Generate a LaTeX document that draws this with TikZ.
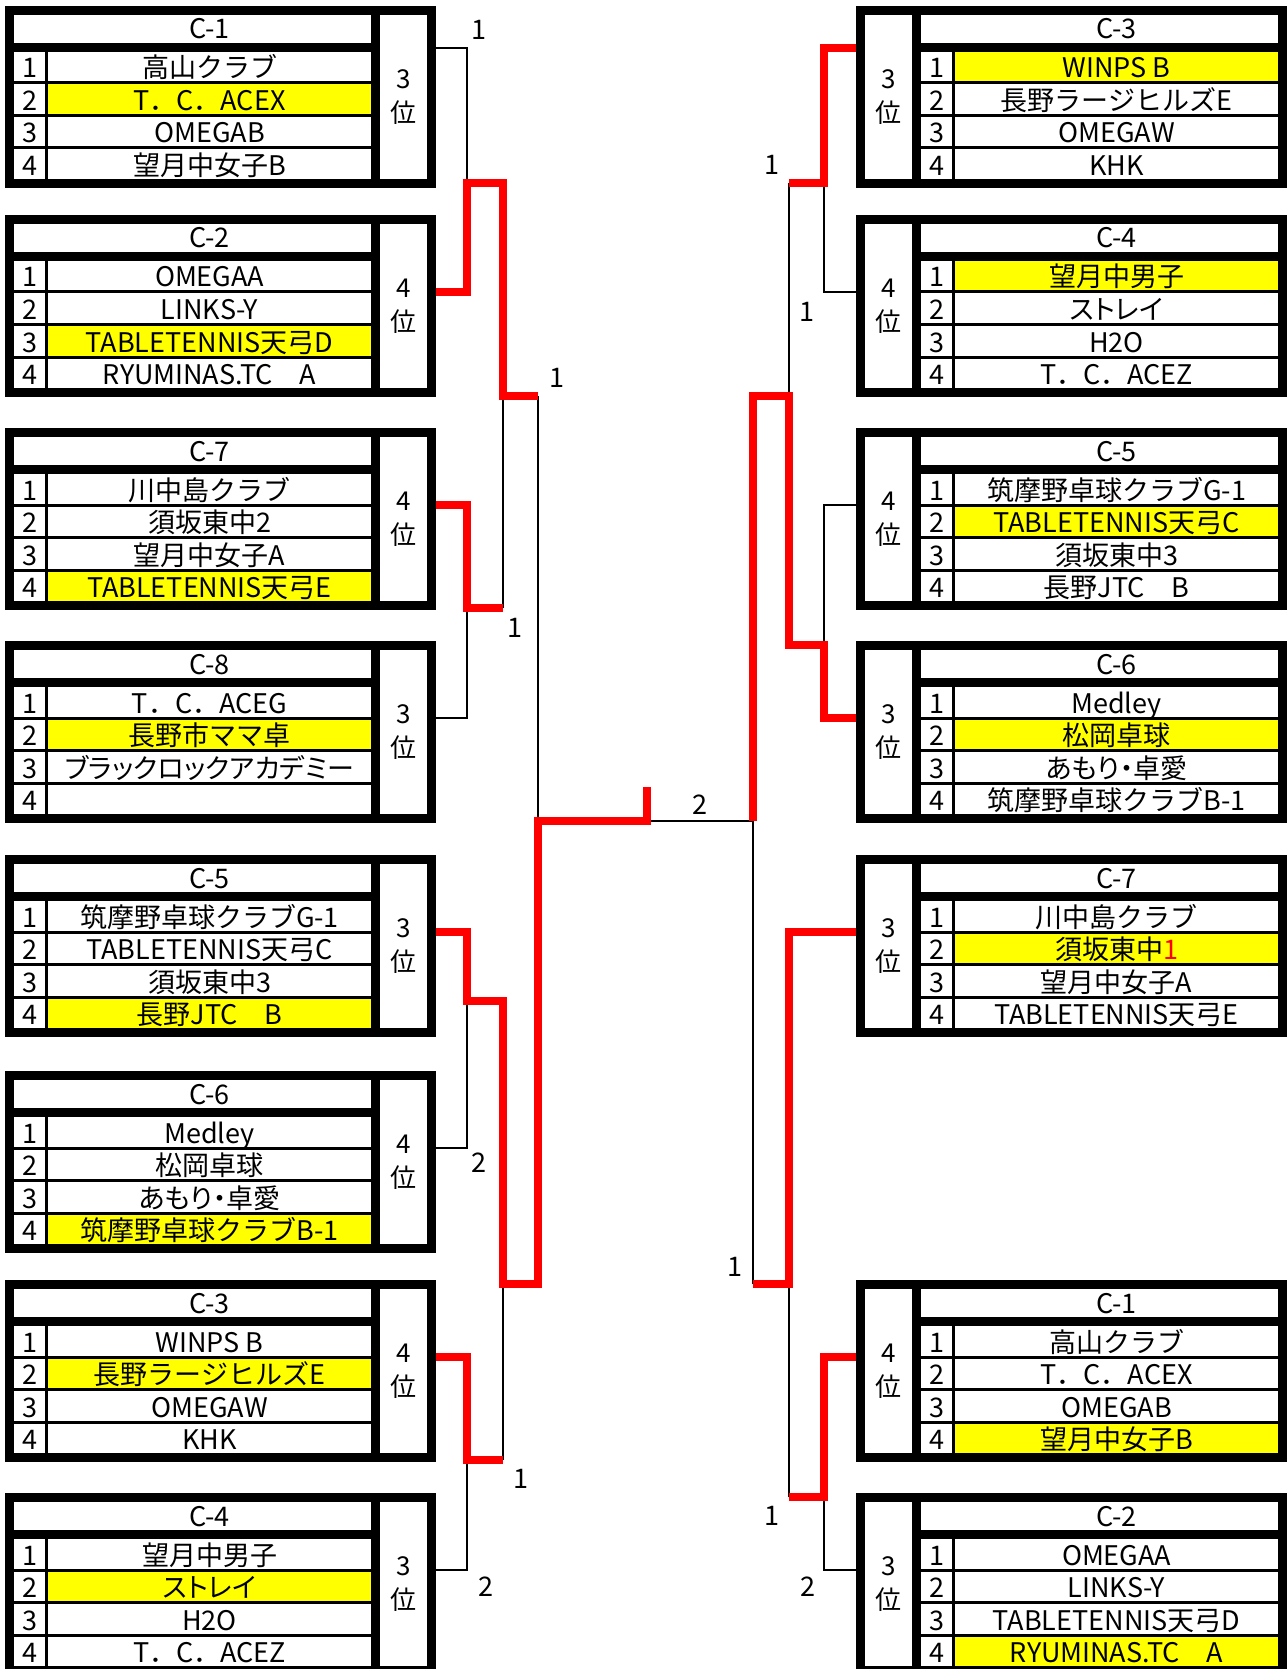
\documentclass[tikz,border=0pt]{standalone}
\usepackage{fontspec}
\setmainfont{Noto Sans CJK JP}
\usepackage{tikz}
\usetikzlibrary{calc}
\definecolor{winred}{RGB}{255,0,0}
\definecolor{hlyellow}{RGB}{255,255,0}
\newcommand{\prop}[1]{{\addfontfeature{RawFeature=+palt}#1}}

% #1 name, #2 x, #3 y, #4 team columns, #5 rank column, #6 title, #7 rank, #8 rows
\newcommand{\teambox}[8]{%
  \pgfmathsetmacro{\tbnamex}{#4+34}
  \node[frame] (#1) at (#2,#3) {};
  \node[titlecell] (#1-t) at ([xshift=#4pt, yshift=-9pt]#1.north west) {\hspace*{34pt}\makebox[323pt]{#6}};
  \node[rankcell] (#1-r) at ([xshift=#5pt, yshift=-9pt]#1.north west) {#7\\位};
  \foreach \k/\team/\bg in {#8} {
    \pgfmathsetmacro{\rowy}{-46-32.5*(\k-1)}
    \node[numcell] (#1-n\k) at ([xshift=#4pt, yshift=\rowy pt]#1.north west) {\k};
    \node[teamcell, fill=\bg] (#1-m\k) at ([xshift=\tbnamex pt, yshift=\rowy pt]#1.north west) {\team};
  }%
}

\begin{document}
\begin{tikzpicture}[
    x=1pt, y=-1pt,
    frame/.style={
        rectangle, fill=black, inner sep=0pt, outer sep=0pt, anchor=north west,
        minimum width=431pt, minimum height=182pt
    },
    cell/.style={
        rectangle, fill=white, inner sep=0pt, outer sep=0pt, anchor=north west,
        font=\fontsize{27}{30}\selectfont
    },
    titlecell/.style={cell, minimum width=357pt, minimum height=28pt, text height=24pt, text depth=4pt},
    teamcell/.style={cell, minimum width=323pt, minimum height=29.5pt, text height=26pt, text depth=3.5pt},
    numcell/.style={cell, minimum width=31pt, minimum height=29.5pt, text height=26pt, text depth=3.5pt},
    rankcell/.style={cell, minimum width=47pt, minimum height=164pt, align=center, font=\fontsize{26}{34}\selectfont},
    score/.style={inner sep=0pt, font=\fontsize{27}{30}\selectfont},
    bline/.style={line width=2.5pt, black},
    rline/.style={line width=8.5pt, winred}
]
\path[use as bounding box, fill=white] (0,0) rectangle (1287,1669);

% Left groups
\teambox{lc1}{5}{6}{9}{375}{C-1}{3}{1/高山クラブ/white, 2/T．C．ACEX/hlyellow, 3/OMEGAB/white, 4/望月中女子B/white}
\teambox{lc2}{5}{215}{9}{375}{C-2}{4}{1/OMEGAA/white, 2/LINKS-Y/white, 3/TABLETENNIS天弓D/hlyellow, 4/RYUMINAS.TC　A/white}
\teambox{lc7}{5}{428}{9}{375}{C-7}{4}{1/川中島クラブ/white, 2/須坂東中2/white, 3/望月中女子A/white, 4/TABLETENNIS天弓E/hlyellow}
\teambox{lc8}{5}{641}{9}{375}{C-8}{3}{1/T．C．ACEG/white, 2/長野市ママ卓/hlyellow, 3/\prop{ブラックロックアカデミー}/white, 4/{}/white}
\teambox{lc5}{5}{855}{9}{375}{C-5}{3}{1/筑摩野卓球クラブG-1/white, 2/TABLETENNIS天弓C/white, 3/須坂東中3/white, 4/長野JTC　B/hlyellow}
\teambox{lc6}{5}{1071}{9}{375}{C-6}{4}{1/Medley/white, 2/松岡卓球/white, 3/\prop{あもり・卓愛}/white, 4/筑摩野卓球クラブB-1/hlyellow}
\teambox{lc3}{5}{1280}{9}{375}{C-3}{4}{1/WINPS B/white, 2/長野ラージヒルズE/hlyellow, 3/OMEGAW/white, 4/KHK/white}
\teambox{lc4}{5}{1493}{9}{375}{C-4}{3}{1/望月中男子/white, 2/\prop{ストレイ}/hlyellow, 3/H2O/white, 4/T．C．ACEZ/white}

% Right groups
\teambox{rc3}{856}{6}{65}{9}{C-3}{3}{1/WINPS B/hlyellow, 2/長野ラージヒルズE/white, 3/OMEGAW/white, 4/KHK/white}
\teambox{rc4}{856}{215}{65}{9}{C-4}{4}{1/望月中男子/hlyellow, 2/\prop{ストレイ}/white, 3/H2O/white, 4/T．C．ACEZ/white}
\teambox{rc5}{856}{428}{65}{9}{C-5}{4}{1/筑摩野卓球クラブG-1/white, 2/TABLETENNIS天弓C/hlyellow, 3/須坂東中3/white, 4/長野JTC　B/white}
\teambox{rc6}{856}{641}{65}{9}{C-6}{3}{1/Medley/white, 2/松岡卓球/hlyellow, 3/\prop{あもり・卓愛}/white, 4/筑摩野卓球クラブB-1/white}
\teambox{rc7}{856}{855}{65}{9}{C-7}{3}{1/川中島クラブ/white, 2/須坂東中{\color{winred}1}/hlyellow, 3/望月中女子A/white, 4/TABLETENNIS天弓E/white}
\teambox{rc1}{856}{1280}{65}{9}{C-1}{4}{1/高山クラブ/white, 2/T．C．ACEX/white, 3/OMEGAB/white, 4/望月中女子B/hlyellow}
\teambox{rc2}{856}{1493}{65}{9}{C-2}{3}{1/OMEGAA/white, 2/LINKS-Y/white, 3/TABLETENNIS天弓D/white, 4/RYUMINAS.TC　A/hlyellow}

% Bracket points
\coordinate (l1) at (467,183);
\coordinate (l2) at (467,608);
\coordinate (l3) at (467,1001);
\coordinate (l4) at (467,1460);
\coordinate (l12) at (503,396);
\coordinate (l34) at (503,1284);
\coordinate (lf) at (538,821);
\coordinate (fin) at (647,821);
\coordinate (fintop) at (647,787);
\coordinate (rf) at (753,821);
\coordinate (r12) at (789,396);
\coordinate (r34) at (789,1284);
\coordinate (r1) at (824,183);
\coordinate (r2) at (824,645);
\coordinate (r4) at (824,1497);

% Connections
\draw[bline] ([yshift=-42pt]lc1.north east) -| (l1);
\draw[bline] ([yshift=-77pt]lc8.north east) -| (l2);
\draw[bline] ([yshift=-77pt]lc6.north east) -| (l3);
\draw[bline] ([yshift=-77pt]lc4.north east) -| (l4);
\draw[bline] (l2 -| l12) -- (l12);
\draw[bline] (l4 -| l34) -- (l34);
\draw[bline] (l12 -| lf) -- (lf);
\draw[bline] (fin) -- (rf);
\draw[bline] ([yshift=-77pt]rc4.north west) -| (r1);
\draw[bline] ([yshift=-77pt]rc5.north west) -| (r2);
\draw[bline] ([yshift=-77pt]rc2.north west) -| (r4);
\draw[bline] (r1 -| r12) -- (r12);
\draw[bline] (r4 -| r34) -- (r34);
\draw[bline] (r34 -| rf) -- (rf);

\draw[rline] ([yshift=-77pt]lc2.north east) -| (l1) -- (l1 -| l12) -- (l12) -- (l12 -| lf);
\draw[rline] ([yshift=-77pt]lc7.north east) -| (l2) -- (l2 -| l12);
\draw[rline] ([yshift=-77pt]lc5.north east) -| (l3) -- (l3 -| l34) -- (l34) -- (l34 -| lf) -- (lf) -- (fin) -- (fintop);
\draw[rline] ([yshift=-77pt]lc3.north east) -| (l4) -- (l4 -| l34);
\draw[rline] ([yshift=-42pt]rc3.north west) -| (r1) -- (r1 -| r12);
\draw[rline] ([yshift=-77pt]rc6.north west) -| (r2) -- (r2 -| r12) -- (r12) -- (r12 -| rf) -- (rf);
\draw[rline] ([yshift=-77pt]rc7.north west) -| (r34) -- (r34 -| rf);
\draw[rline] ([yshift=-77pt]rc1.north west) -| (r4) -- (r4 -| r34);

% Scores
\node[score] (sl1) at (479,30) {1};
\node[score] (sl2) at (557,378) {1};
\node[score] (sl3) at (515,628) {1};
\node[score] (sl4) at (479,1163) {2};
\node[score] (sl5) at (521,1479) {1};
\node[score] (sl6) at (486,1587) {2};
\node[score] (sfin) at (700,805) {2};
\node[score] (sr1) at (772,165) {1};
\node[score] (sr2) at (807,312) {1};
\node[score] (sr3) at (735,1267) {1};
\node[score] (sr4) at (772,1516) {1};
\node[score] (sr5) at (808,1587) {2};

\end{tikzpicture}
\end{document}
